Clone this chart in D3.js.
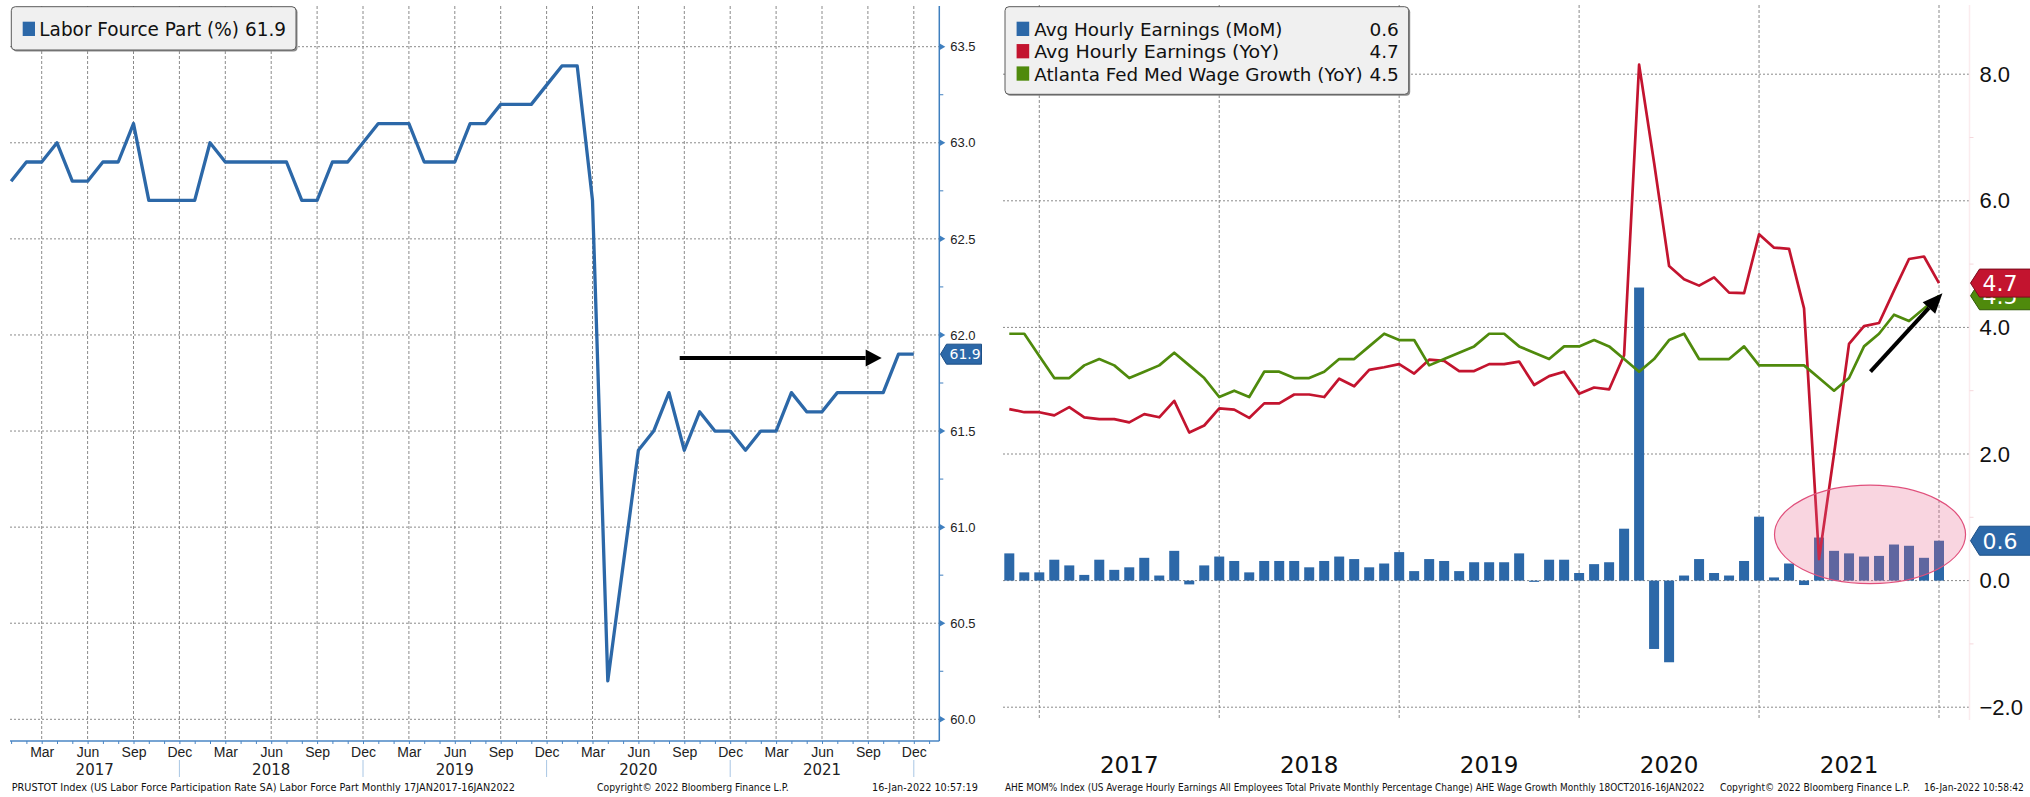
<!DOCTYPE html>
<html>
<head>
<meta charset="utf-8">
<script src="https://cdn.jsdelivr.net/npm/d3@7"></script>
<style>
  body { margin: 0; background: #fff; }
  svg { display: block; font-family: "DejaVu Sans", Verdana, sans-serif; }
</style>
</head>
<body>
<svg id="chart" width="2030" height="797"></svg>
<script>
// ---------------- data ----------------

// Left panel: US labor force participation rate (%), Jan 2017 .. Dec 2021
const lfprMonths = d3.timeMonth.range(new Date(2017, 0, 1), new Date(2022, 1, 1)); // axis runs to Jan 2022
const lfpr = [
  62.8, 62.9, 62.9, 63.0, 62.8, 62.8, 62.9, 62.9, 63.1, 62.7, 62.7, 62.7, // 2017
  62.7, 63.0, 62.9, 62.9, 62.9, 62.9, 62.9, 62.7, 62.7, 62.9, 62.9, 63.0, // 2018
  63.1, 63.1, 63.1, 62.9, 62.9, 62.9, 63.1, 63.1, 63.2, 63.2, 63.2, 63.3, // 2019
  63.4, 63.4, 62.7, 60.2, 60.8, 61.4, 61.5, 61.7, 61.4, 61.6, 61.5, 61.5, // 2020
  61.4, 61.5, 61.5, 61.7, 61.6, 61.6, 61.7, 61.7, 61.7, 61.7, 61.9, 61.9  // 2021
];
const lfprTicks = [60.0, 60.5, 61.0, 61.5, 62.0, 62.5, 63.0, 63.5];
const lfprMinorTicks = [60.25, 60.75, 61.25, 61.75, 62.25, 62.75, 63.25];
const lfprYears = [2017, 2018, 2019, 2020, 2021];

// Right panel: wages, Oct 2016 .. Dec 2021
const wageMonths = d3.timeMonth.range(new Date(2016, 9, 1), new Date(2022, 0, 1));
const aheMoM = [
  0.43, 0.13, 0.13, 0.33, 0.24, 0.09, 0.33, 0.17, 0.21, 0.36, 0.08, 0.47,
  -0.06, 0.24, 0.38, 0.31, 0.13, 0.31, 0.31, 0.31, 0.21, 0.31, 0.38, 0.34,
  0.21, 0.27, 0.45, 0.15, 0.34, 0.31, 0.15, 0.29, 0.29, 0.29, 0.43, -0.02,
  0.33, 0.33, 0.12, 0.26, 0.29, 0.82, 4.63, -1.08, -1.29, 0.08, 0.34, 0.12,
  0.08, 0.31, 1.01, 0.05, 0.27, -0.07, 0.68, 0.47, 0.43, 0.38, 0.39, 0.57,
  0.55, 0.36, 0.63
];
const aheYoY = [
  2.71, 2.66, 2.66, 2.61, 2.74, 2.58, 2.55, 2.55, 2.50, 2.63, 2.58, 2.84,
  2.34, 2.45, 2.72, 2.70, 2.57, 2.80, 2.80, 2.94, 2.94, 2.90, 3.19, 3.07,
  3.33, 3.37, 3.42, 3.27, 3.49, 3.47, 3.31, 3.31, 3.42, 3.42, 3.46, 3.09,
  3.23, 3.30, 2.95, 3.05, 3.02, 3.56, 8.15, 6.60, 4.97, 4.76, 4.66, 4.79,
  4.55, 4.54, 5.47, 5.26, 5.24, 4.30, 0.34, 2.00, 3.74, 4.02, 4.07, 4.58,
  5.08, 5.12, 4.70
];
const atlantaFed = [
  3.9, 3.9, 3.55, 3.2, 3.2, 3.4, 3.5, 3.4, 3.2, 3.3, 3.4, 3.6,
  3.4, 3.2, 2.9, 3.0, 2.9, 3.3, 3.3, 3.2, 3.2, 3.3, 3.5, 3.5,
  3.7, 3.9, 3.8, 3.8, 3.4, 3.5, 3.6, 3.7, 3.9, 3.9, 3.7, 3.6,
  3.5, 3.7, 3.7, 3.8, 3.7, 3.5, 3.3, 3.5, 3.8, 3.9, 3.5, 3.5,
  3.5, 3.7, 3.4, 3.4, 3.4, 3.4, 3.2, 3.0, 3.2, 3.7, 3.9, 4.2,
  4.1, 4.3, 4.5
];
const wageTicks = [-2, 0, 2, 4, 6, 8];
const wageMinorTicks = [-1, 1, 3, 5, 7];
const wageYears = [2017, 2018, 2019, 2020, 2021];

const blue = '#2c68a8', red = '#c3142f', green = '#4f8a0c';
const gridColor = '#8a8a8a';

const fmtKey = d3.timeFormat('%Y-%m');
const fmt1 = d3.format('.1f');
const svg = d3.select('#chart');

// point on a point scale at a fractional month index
function xAt(scale, i) {
  return scale(scale.domain()[0]) + scale.step() * i;
}

// arrow as a line plus a filled triangular head
function arrow(g, x1, y1, x2, y2, w, headLen, headW) {
  const a = Math.atan2(y2 - y1, x2 - x1);
  const bx = x2 - headLen * Math.cos(a), by = y2 - headLen * Math.sin(a);
  g.append('line')
    .attr('x1', x1).attr('y1', y1).attr('x2', bx).attr('y2', by)
    .attr('stroke', '#000').attr('stroke-width', w);
  const px = Math.sin(a) * headW / 2, py = -Math.cos(a) * headW / 2;
  g.append('path')
    .attr('d', `M${x2},${y2}L${bx + px},${by + py}L${bx - px},${by - py}Z`)
    .attr('fill', '#000');
}

// value tag pointing at the axis
function tag(g, xTip, yc, w, h, notch, fill, stroke, label, size) {
  g.append('path')
    .attr('d', `M${xTip},${yc}L${xTip + notch},${yc - h / 2}L${xTip + w},${yc - h / 2}` +
               `L${xTip + w},${yc + h / 2}L${xTip + notch},${yc + h / 2}Z`)
    .attr('fill', fill).attr('stroke', stroke).attr('stroke-width', 1);
  g.append('text')
    .attr('x', xTip + notch + 3).attr('y', yc + size * 0.36)
    .attr('fill', '#fff').attr('font-size', size)
    .text(label);
}

function legendBox(g, x, y, w, h) {
  g.append('rect').attr('x', x + 1.5).attr('y', y + 1.5).attr('width', w).attr('height', h)
    .attr('rx', 4).attr('fill', '#8c8c8c');
  g.append('rect').attr('x', x).attr('y', y).attr('width', w).attr('height', h)
    .attr('rx', 4).attr('fill', '#f0f0f0').attr('stroke', '#5a5a5a');
}

// small footer line, squeezed horizontally to the width it has in the original
function footer(g, x, y, len, txt) {
  const t = g.append('text')
    .attr('font-size', 10).attr('fill', '#111')
    .text(txt);
  const natural = t.node().getComputedTextLength();
  t.attr('transform', `translate(${x},${y}) scale(${len / natural},1)`);
}

// ================= left panel =================
{
  const P = { left: 10, right: 939.3, top: 6, bottom: 741 };
  const keys = lfprMonths.map(fmtKey);
  const x = d3.scalePoint().domain(keys).range([11.1, 929.1]);
  const y = d3.scaleLinear().domain([60, 63.5]).range([719.3, 46.7]);
  const g = svg.append('g');

  // grid
  g.append('g').selectAll('line').data(lfprTicks).join('line')
    .attr('x1', P.left).attr('x2', P.right)
    .attr('y1', d => y(d)).attr('y2', d => y(d))
    .attr('stroke', gridColor).attr('stroke-dasharray', '2,2');
  const quarterMonths = lfprMonths.filter(d => d.getMonth() % 3 === 2);
  g.append('g').selectAll('line').data(quarterMonths).join('line')
    .attr('x1', d => x(fmtKey(d))).attr('x2', d => x(fmtKey(d)))
    .attr('y1', P.top).attr('y2', P.bottom)
    .attr('stroke', gridColor).attr('stroke-dasharray', '3,2');

  // bottom axis
  const xAxis = g.append('g').attr('transform', `translate(0,${P.bottom})`)
    .call(d3.axisBottom(x).tickValues(keys).tickSize(3).tickPadding(3)
      .tickFormat(k => {
        const d = d3.timeParse('%Y-%m')(k);
        return d.getMonth() % 3 === 2 ? d3.timeFormat('%b')(d) : '';
      }));
  xAxis.select('.domain').remove();
  xAxis.selectAll('line').attr('stroke', '#4a86c5');
  xAxis.selectAll('text').attr('font-size', 14).attr('fill', '#222').attr('font-family', null);
  g.append('line').attr('x1', P.left).attr('x2', P.right)
    .attr('y1', P.bottom).attr('y2', P.bottom)
    .attr('stroke', '#4a86c5').attr('stroke-width', 1.5);

  // year separators and labels
  const decX = lfprYears.map(yr => x(fmtKey(new Date(yr, 11, 1))));
  g.append('g').selectAll('line').data(decX).join('line')
    .attr('x1', d => d).attr('x2', d => d).attr('y1', 760).attr('y2', 777)
    .attr('stroke', '#a8c6e4');
  g.append('g').selectAll('text').data(lfprYears).join('text')
    .attr('x', (d, i) => ((i === 0 ? P.left : decX[i - 1]) + decX[i]) / 2)
    .attr('y', 775).attr('text-anchor', 'middle')
    .attr('font-size', 15).attr('fill', '#222')
    .text(d => d);

  // right axis
  g.append('line').attr('x1', P.right).attr('x2', P.right)
    .attr('y1', P.top).attr('y2', P.bottom)
    .attr('stroke', '#3f7fbf').attr('stroke-width', 1.5);
  const yAxis = g.append('g').attr('transform', `translate(${P.right},0)`)
    .call(d3.axisRight(y).tickValues(lfprTicks).tickSize(0).tickPadding(11).tickFormat(fmt1));
  yAxis.select('.domain').remove();
  yAxis.selectAll('text').attr('font-size', 13).attr('fill', '#222').attr('font-family', null);
  g.append('g').selectAll('path').data(lfprTicks).join('path')
    .attr('d', d => `M${P.right},${y(d) - 3.5}L${P.right + 6},${y(d)}L${P.right},${y(d) + 3.5}Z`)
    .attr('fill', '#3f7fbf');
  g.append('g').selectAll('line').data(lfprMinorTicks).join('line')
    .attr('x1', P.right).attr('x2', P.right + 4)
    .attr('y1', d => y(d)).attr('y2', d => y(d))
    .attr('stroke', '#3f7fbf');

  // series
  g.append('path').datum(lfpr)
    .attr('fill', 'none').attr('stroke', blue).attr('stroke-width', 3.3)
    .attr('stroke-linejoin', 'round')
    .attr('d', d3.line().x((d, i) => x(keys[i])).y(d => y(d)));

  // annotation arrow
  arrow(g, xAt(x, 43.7), y(61.88), xAt(x, 56.9), y(61.88), 4, 16, 17);

  // last value tag
  const last = lfpr[lfpr.length - 1];
  tag(g, 940.5, y(last), 41, 20, 6, blue, '#1d4f86', fmt1(last), 14);

  // legend
  legendBox(g, 11.3, 6.7, 284.7, 43.3);
  g.append('rect').attr('x', 22.7).attr('y', 21.7).attr('width', 12.3).attr('height', 14.3).attr('fill', blue);
  g.append('text').attr('x', 39.3).attr('y', 36).attr('font-size', 19.5).attr('fill', '#111')
    .attr('textLength', 246.7).attr('lengthAdjust', 'spacingAndGlyphs')
    .text(`Labor Fource Part (%) ${fmt1(last)}`);

  // footer
  footer(g, 11.7, 791, 504, 'PRUSTOT Index (US Labor Force Participation Rate SA) Labor Force Part  Monthly 17JAN2017-16JAN2022');
  footer(g, 597, 791, 192, 'Copyright\u00a9 2022 Bloomberg Finance L.P.');
  footer(g, 872, 791, 106, '16-Jan-2022 10:57:19');
}

// ================= right panel =================
{
  const P = { left: 1003, right: 1969.5, top: 5, bottom: 720 };
  const keys = wageMonths.map(fmtKey);
  const x = d3.scalePoint().domain(keys).range([1009.3, 1939.0]);
  const y = d3.scaleLinear().domain([-2, 8]).range([707.2, 74.2]);
  const g = svg.append('g');

  // grid
  g.append('g').selectAll('line').data(wageTicks).join('line')
    .attr('x1', P.left).attr('x2', P.right)
    .attr('y1', d => y(d)).attr('y2', d => y(d))
    .attr('stroke', gridColor).attr('stroke-dasharray', '2,2');
  const decKeys = wageMonths.filter(d => d.getMonth() === 11).map(fmtKey);
  g.append('g').selectAll('line').data(decKeys).join('line')
    .attr('x1', d => x(d)).attr('x2', d => x(d))
    .attr('y1', P.top).attr('y2', P.bottom)
    .attr('stroke', gridColor).attr('stroke-dasharray', '3,2');

  // right axis (very faint in the original)
  g.append('line').attr('x1', P.right).attr('x2', P.right)
    .attr('y1', P.top).attr('y2', P.bottom)
    .attr('stroke', '#fbecee').attr('stroke-width', 1.5);
  g.append('g').selectAll('line').data(wageMinorTicks).join('line')
    .attr('x1', P.right).attr('x2', P.right + 4)
    .attr('y1', d => y(d)).attr('y2', d => y(d))
    .attr('stroke', '#f6d8dc');
  const yAxis = g.append('g').attr('transform', `translate(${P.right},0)`)
    .call(d3.axisRight(y).tickValues(wageTicks).tickSize(0).tickPadding(10).tickFormat(fmt1));
  yAxis.select('.domain').remove();
  yAxis.selectAll('text').attr('font-size', 22).attr('fill', '#111').attr('font-family', null);

  // year labels
  g.append('g').selectAll('text').data(wageYears).join('text')
    .attr('x', d => (x(fmtKey(new Date(d - 1, 11, 1))) + x(fmtKey(new Date(d, 11, 1)))) / 2)
    .attr('y', 773).attr('text-anchor', 'middle')
    .attr('font-size', 23).attr('fill', '#111')
    .text(d => d);

  // bars
  const barW = 10;
  g.append('g').selectAll('rect').data(aheMoM).join('rect')
    .attr('x', (d, i) => x(keys[i]) - barW / 2)
    .attr('width', barW)
    .attr('y', d => Math.min(y(d), y(0)))
    .attr('height', d => Math.abs(y(d) - y(0)))
    .attr('fill', blue);

  // lines
  const line = d3.line().x((d, i) => x(keys[i])).y(d => y(d));
  g.append('path').datum(aheYoY)
    .attr('fill', 'none').attr('stroke', red).attr('stroke-width', 2.7)
    .attr('stroke-linejoin', 'round').attr('d', line);
  g.append('path').datum(atlantaFed)
    .attr('fill', 'none').attr('stroke', green).attr('stroke-width', 2.7)
    .attr('stroke-linejoin', 'round').attr('d', line);

  // highlight ellipse over the 2021 bars
  g.append('ellipse')
    .attr('cx', xAt(x, 57.4)).attr('cy', y(0.73))
    .attr('rx', x.step() * 6.37).attr('ry', y(0) - y(0.777))
    .attr('fill', 'rgb(232,100,140)').attr('fill-opacity', 0.27)
    .attr('stroke', '#e0507c').attr('stroke-width', 1.2);

  // annotation arrow
  arrow(g, xAt(x, 57.43), y(3.30), xAt(x, 62.23), y(4.54), 4, 20, 17);

  // last value tags (green sits behind red, as in the original)
  const lastMoM = aheMoM[aheMoM.length - 1];
  const lastYoY = aheYoY[aheYoY.length - 1];
  const lastAtl = atlantaFed[atlantaFed.length - 1];
  tag(g, 1970.5, y(lastAtl), 60, 28, 9, green, '#2f5a05', fmt1(lastAtl), 22);
  tag(g, 1970.5, y(lastYoY), 60, 28, 9, red, '#7a0a1c', fmt1(lastYoY), 22);
  tag(g, 1970.5, y(lastMoM), 60, 29, 9, blue, '#1d4f86', fmt1(lastMoM), 22);

  // legend
  legendBox(g, 1005, 6.7, 403.7, 87.6);
  const legendRows = [
    { name: 'Avg Hourly Earnings (MoM)', color: blue, value: lastMoM, len: 248.3 },
    { name: 'Avg Hourly Earnings (YoY)', color: red, value: lastYoY, len: 245 },
    { name: 'Atlanta Fed Med Wage Growth (YoY)', color: green, value: lastAtl, len: 328.5 }
  ];
  const rows = g.append('g').selectAll('g').data(legendRows).join('g')
    .attr('transform', (d, i) => `translate(0,${36 + i * 22.35})`);
  rows.append('rect').attr('x', 1016.6).attr('y', -14.3).attr('width', 12.6).attr('height', 14.3)
    .attr('fill', d => d.color);
  rows.append('text').attr('x', 1034.2).attr('y', 0).attr('font-size', 18.5).attr('fill', '#111')
    .attr('textLength', d => d.len).attr('lengthAdjust', 'spacingAndGlyphs')
    .text(d => d.name);
  rows.append('text').attr('x', 1398.8).attr('y', 0).attr('font-size', 18.5).attr('fill', '#111')
    .attr('text-anchor', 'end')
    .text(d => fmt1(d.value));

  // footer
  footer(g, 1005, 791, 700, 'AHE MOM% Index (US Average Hourly Earnings All Employees Total Private Monthly Percentage Change) AHE Wage Growth  Monthly 18OCT2016-16JAN2022');
  footer(g, 1720, 791, 190, 'Copyright\u00a9 2022 Bloomberg Finance L.P.');
  footer(g, 1924, 791, 100, '16-Jan-2022 10:58:42');
}
</script>
</body>
</html>
